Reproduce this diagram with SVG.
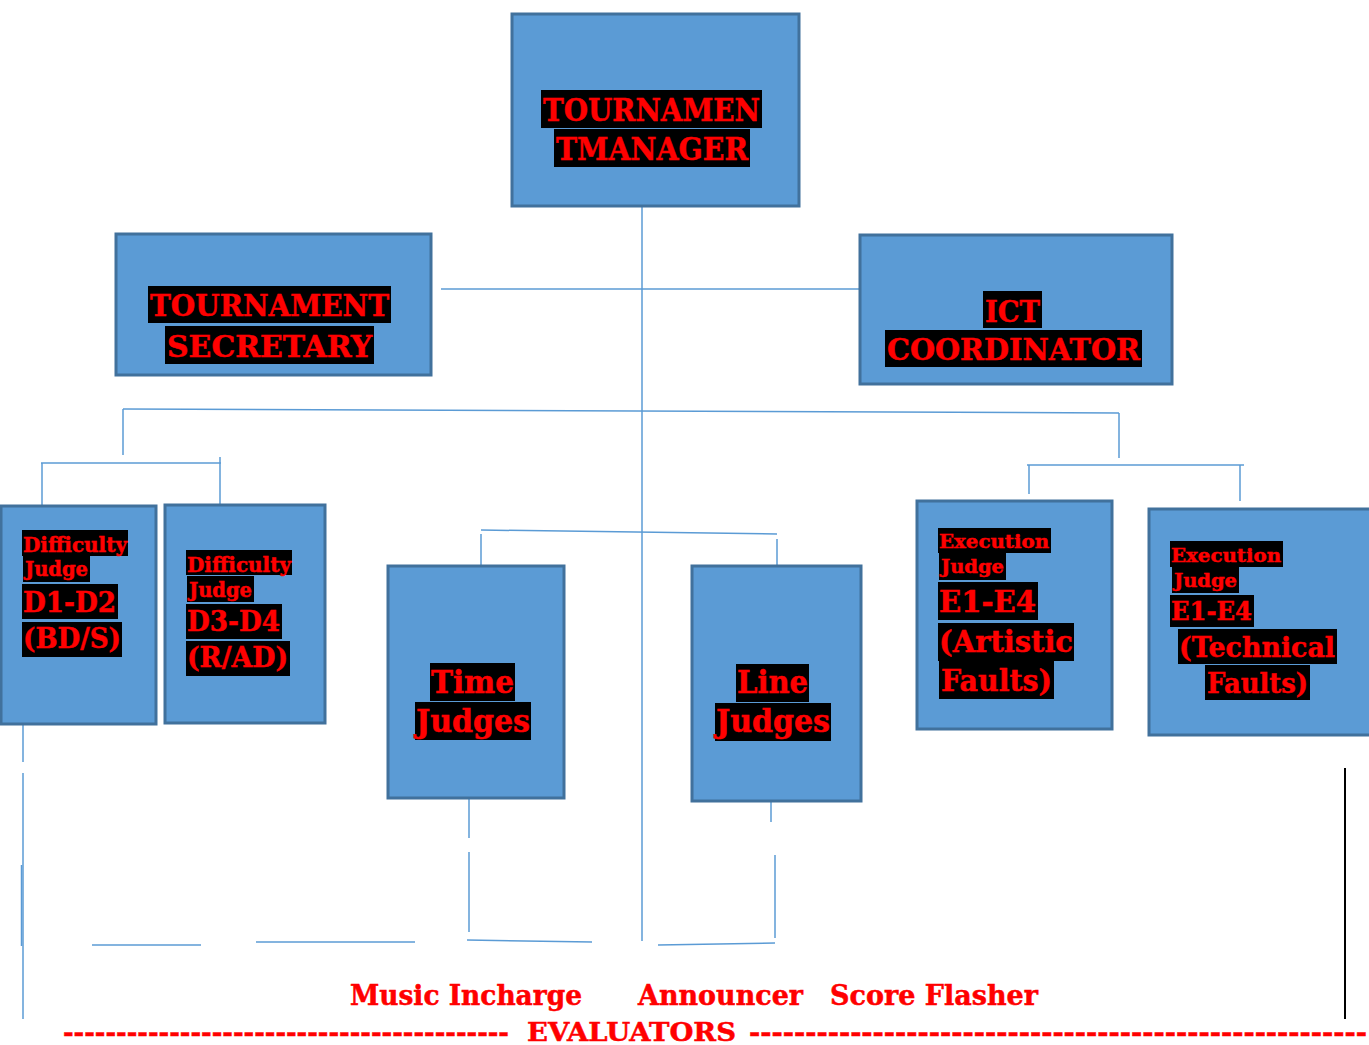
<svg xmlns="http://www.w3.org/2000/svg" width="1369" height="1045" viewBox="0 0 1369 1045">
<style>
.box{fill:#5B9BD5;stroke:#41719C;stroke-width:3}
.hl{fill:#000}
.t{fill:#FF0000;stroke:#FF0000;stroke-width:0.5;font-family:"DejaVu Serif","Liberation Serif",serif;font-weight:bold}
.ln{stroke:#5B9BD5;stroke-width:1.5;fill:none}
.bk{stroke:#000;stroke-width:2;fill:none}
</style>
<rect width="1369" height="1045" fill="#fff"/>
<g id="connectors">
<line class="ln" x1="642" y1="207" x2="642" y2="941"/>
<line class="ln" x1="441" y1="289" x2="860" y2="289"/>
<line class="ln" x1="123" y1="409" x2="1119" y2="413"/>
<line class="ln" x1="123" y1="409" x2="123" y2="455"/>
<line class="ln" x1="1119" y1="413" x2="1119" y2="458"/>
<line class="ln" x1="41" y1="463" x2="221" y2="463"/>
<line class="ln" x1="42" y1="463" x2="42" y2="506"/>
<line class="ln" x1="220" y1="457" x2="220" y2="506"/>
<line class="ln" x1="1027" y1="465" x2="1244" y2="465"/>
<line class="ln" x1="1029" y1="465" x2="1029" y2="494"/>
<line class="ln" x1="1240" y1="465" x2="1240" y2="501"/>
<line class="ln" x1="481" y1="530" x2="777" y2="534"/>
<line class="ln" x1="481" y1="534" x2="481" y2="566"/>
<line class="ln" x1="777" y1="539" x2="777" y2="566"/>
<line class="ln" x1="23" y1="724" x2="23" y2="762"/>
<line class="ln" x1="23" y1="773" x2="23" y2="1019"/>
<line class="ln" x1="21.5" y1="865" x2="21.5" y2="946"/>
<line class="ln" x1="92" y1="945" x2="201" y2="945"/>
<line class="ln" x1="256" y1="942" x2="415" y2="942"/>
<line class="ln" x1="467" y1="940" x2="592" y2="942"/>
<line class="ln" x1="469" y1="798" x2="469" y2="838"/>
<line class="ln" x1="469" y1="852" x2="469" y2="932"/>
<line class="ln" x1="658" y1="945" x2="775" y2="943"/>
<line class="ln" x1="771" y1="801" x2="771" y2="822"/>
<line class="ln" x1="775" y1="855" x2="775" y2="938"/>
<line class="bk" x1="1345" y1="768" x2="1345" y2="1019"/>
</g>
<g id="manager">
<rect class="box" x="512" y="14" width="287" height="192"/>
<rect class="hl" x="541" y="90" width="221" height="38"/>
<rect class="hl" x="554" y="129" width="196" height="38"/>
<text class="t" x="543" y="121" font-size="31" textLength="217" lengthAdjust="spacingAndGlyphs">TOURNAMEN</text>
<text class="t" x="556" y="160" font-size="31" textLength="192" lengthAdjust="spacingAndGlyphs">TMANAGER</text>
</g>
<g id="secretary">
<rect class="box" x="116" y="234" width="315" height="141"/>
<rect class="hl" x="148" y="286" width="243" height="37"/>
<rect class="hl" x="165" y="326" width="209" height="38"/>
<text class="t" x="150" y="316" font-size="29" textLength="239" lengthAdjust="spacingAndGlyphs">TOURNAMENT</text>
<text class="t" x="167" y="357" font-size="29" textLength="205" lengthAdjust="spacingAndGlyphs">SECRETARY</text>
</g>
<g id="ict">
<rect class="box" x="860" y="235" width="312" height="149"/>
<rect class="hl" x="983" y="291" width="59" height="37"/>
<rect class="hl" x="885" y="330" width="257" height="37"/>
<text class="t" x="985" y="322" font-size="29" textLength="55" lengthAdjust="spacingAndGlyphs">ICT</text>
<text class="t" x="887" y="360" font-size="29" textLength="253" lengthAdjust="spacingAndGlyphs">COORDINATOR</text>
</g>
<g id="d1d2">
<rect class="box" x="1" y="506" width="155" height="218"/>
<rect class="hl" x="22" y="530" width="106" height="26"/>
<rect class="hl" x="23" y="556" width="67" height="26"/>
<rect class="hl" x="22" y="584" width="96" height="35"/>
<rect class="hl" x="22" y="622" width="100" height="35"/>
<text class="t" x="23" y="552" font-size="20" textLength="104" lengthAdjust="spacingAndGlyphs">Difficulty</text>
<text class="t" x="25" y="576" font-size="20" textLength="63" lengthAdjust="spacingAndGlyphs">Judge</text>
<text class="t" x="23" y="612" font-size="28" textLength="93" lengthAdjust="spacingAndGlyphs">D1-D2</text>
<text class="t" x="23" y="648" font-size="28" textLength="98" lengthAdjust="spacingAndGlyphs">(BD/S)</text>
</g>
<g id="d3d4">
<rect class="box" x="165" y="505" width="160" height="218"/>
<rect class="hl" x="186" y="550" width="106" height="25"/>
<rect class="hl" x="187" y="576" width="67" height="26"/>
<rect class="hl" x="186" y="604" width="96" height="35"/>
<rect class="hl" x="186" y="641" width="104" height="35"/>
<text class="t" x="187" y="572" font-size="20" textLength="104" lengthAdjust="spacingAndGlyphs">Difficulty</text>
<text class="t" x="189" y="597" font-size="20" textLength="63" lengthAdjust="spacingAndGlyphs">Judge</text>
<text class="t" x="187" y="631" font-size="28" textLength="93" lengthAdjust="spacingAndGlyphs">D3-D4</text>
<text class="t" x="187" y="667" font-size="28" textLength="101" lengthAdjust="spacingAndGlyphs">(R/AD)</text>
</g>
<g id="time">
<rect class="box" x="388" y="566" width="176" height="232"/>
<rect class="hl" x="430" y="663" width="85" height="38"/>
<rect class="hl" x="415" y="702" width="116" height="38"/>
<text class="t" x="431" y="693" font-size="31" textLength="83" lengthAdjust="spacingAndGlyphs">Time</text>
<text class="t" x="416" y="732" font-size="31" textLength="114" lengthAdjust="spacingAndGlyphs">Judges</text>
</g>
<g id="line">
<rect class="box" x="692" y="566" width="169" height="235"/>
<rect class="hl" x="736" y="664" width="73" height="38"/>
<rect class="hl" x="715" y="703" width="116" height="38"/>
<text class="t" x="737" y="693" font-size="31" textLength="71" lengthAdjust="spacingAndGlyphs">Line</text>
<text class="t" x="716" y="732" font-size="31" textLength="114" lengthAdjust="spacingAndGlyphs">Judges</text>
</g>
<g id="exec-artistic">
<rect class="box" x="917" y="501" width="195" height="228"/>
<rect class="hl" x="938" y="528" width="113" height="25"/>
<rect class="hl" x="939" y="553" width="67" height="27"/>
<rect class="hl" x="938" y="582" width="100" height="38"/>
<rect class="hl" x="938" y="623" width="136" height="38"/>
<rect class="hl" x="939" y="661" width="115" height="38"/>
<text class="t" x="939" y="548" font-size="19" textLength="110" lengthAdjust="spacingAndGlyphs">Execution</text>
<text class="t" x="941" y="573" font-size="19" textLength="63" lengthAdjust="spacingAndGlyphs">Judge</text>
<text class="t" x="939" y="612" font-size="30" textLength="97" lengthAdjust="spacingAndGlyphs">E1-E4</text>
<text class="t" x="939" y="652" font-size="30" textLength="134" lengthAdjust="spacingAndGlyphs">(Artistic</text>
<text class="t" x="941" y="691" font-size="30" textLength="111" lengthAdjust="spacingAndGlyphs">Faults)</text>
</g>
<g id="exec-technical">
<rect class="box" x="1149" y="509" width="222" height="226"/>
<rect class="hl" x="1170" y="541" width="113" height="26"/>
<rect class="hl" x="1172" y="567" width="67" height="26"/>
<rect class="hl" x="1170" y="595" width="84" height="32"/>
<rect class="hl" x="1178" y="629" width="159" height="35"/>
<rect class="hl" x="1205" y="665" width="105" height="35"/>
<text class="t" x="1171" y="562" font-size="19" textLength="110" lengthAdjust="spacingAndGlyphs">Execution</text>
<text class="t" x="1174" y="587" font-size="19" textLength="63" lengthAdjust="spacingAndGlyphs">Judge</text>
<text class="t" x="1171" y="620" font-size="26" textLength="81" lengthAdjust="spacingAndGlyphs">E1-E4</text>
<text class="t" x="1179" y="657" font-size="28" textLength="156" lengthAdjust="spacingAndGlyphs">(Technical</text>
<text class="t" x="1207" y="693" font-size="28" textLength="101" lengthAdjust="spacingAndGlyphs">Faults)</text>
</g>
<g id="evaluators">
<text class="t" x="350" y="1005" font-size="27" textLength="232" lengthAdjust="spacingAndGlyphs">Music Incharge</text>
<text class="t" x="638" y="1005" font-size="27" textLength="165" lengthAdjust="spacingAndGlyphs">Announcer</text>
<text class="t" x="830" y="1005" font-size="27" textLength="208" lengthAdjust="spacingAndGlyphs">Score Flasher</text>
<text class="t" x="63" y="1041" font-size="26" textLength="446" lengthAdjust="spacingAndGlyphs">------------------------------------------</text>
<text class="t" x="527" y="1041" font-size="26" textLength="209" lengthAdjust="spacingAndGlyphs">EVALUATORS</text>
<text class="t" x="749" y="1041" font-size="26" textLength="618" lengthAdjust="spacingAndGlyphs">-------------------------------------------------------</text>
</g>
</svg>
